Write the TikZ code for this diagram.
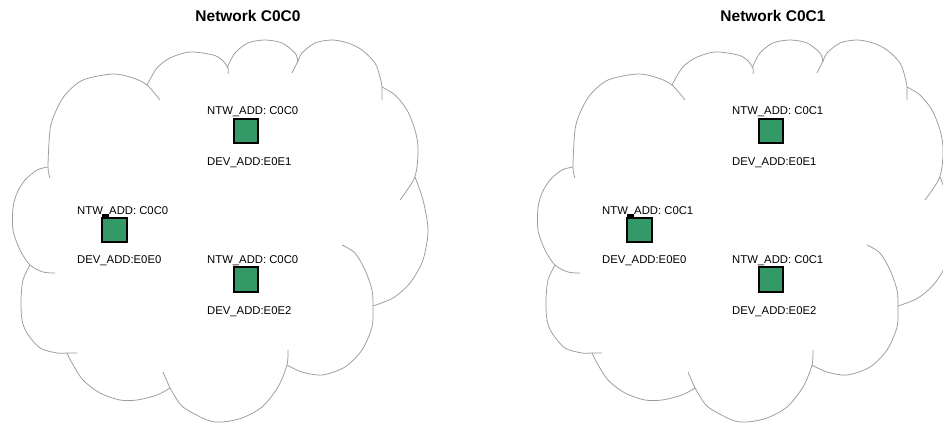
\documentclass[tikz,border=0pt]{standalone}
\usepackage{fontspec}
\setmainfont{Liberation Sans}
\definecolor{cloudgray}{RGB}{155,155,155}
\definecolor{devgreen}{RGB}{51,153,102}
\tikzset{
  cloudline/.style={draw=cloudgray, line width=0.75pt, line join=round},
  device/.style={draw=black, line width=1.8pt, fill=devgreen,
    minimum size=24.5pt, inner sep=0pt},
  addrlabel/.style={anchor=base west, inner sep=0pt,
    font=\fontsize{11.3}{12}\selectfont},
  nettitle/.style={anchor=base, inner sep=0pt,
    font=\bfseries\fontsize{15.5}{18}\selectfont},
}
% One network: cloud outline, three devices and their addresses.
% #1 = suffix for node names, #2 = network address
\newcommand\networkpanel[2]{%
  % cloud lobes, each arc running a little past its neighbour
  \draw[cloudline] plot[smooth] coordinates {(50,178) (48,167) (50,130) (55,113) (65,95) (83,80) (113,74) (133,78) (147,85) (160,100)};
  \draw[cloudline] plot[smooth] coordinates {(147,85) (157,68) (170,58) (190,52) (213,55) (222,60) (228,68) (228,74)};
  \draw[cloudline] plot[smooth] coordinates {(227,68) (235,53) (248,43) (265,40) (282,43) (295,53) (298,62)};
  \draw[cloudline] plot[smooth] coordinates {(292,73) (298,61) (302,53) (315,43) (332,40) (348,43) (362,50) (375,63) (380,77) (382,87) (382,100)};
  \draw[cloudline] plot[smooth] coordinates {(382,87) (395,95) (407,110) (415,130) (418,147) (417,167) (413,181) (400,200)};
  \draw[cloudline] plot[smooth] coordinates {(415,177) (423,200) (428,230) (423,260) (410,283) (393,298) (373,306)};
  \draw[cloudline] plot[smooth] coordinates {(342,245) (355,253) (365,270) (372,290) (373,307) (372,327) (362,350) (345,367) (322,375) (302,372) (287,365)};
  \draw[cloudline] plot[smooth] coordinates {(288,350) (287,365) (278,387) (262,407) (242,418) (222,422) (207,420) (183,407) (173,393) (170,388) (163,372)};
  \draw[cloudline] plot[smooth] coordinates {(67,353) (72,363) (83,380) (100,393) (120,400) (137,400) (157,395) (170,388)};
  \draw[cloudline] plot[smooth] coordinates {(30,265) (23,280) (21,300) (22,320) (27,333) (40,348) (57,353) (67,353) (77,353)};
  \draw[cloudline] plot[smooth] coordinates {(48,167) (37,170) (25,180) (17,193) (13,208) (13,230) (20,250) (30,265) (43,272) (55,273)};
  % title
  \node[nettitle] (title#1) at (248,21) {Network #2};
  % devices
  \node[device] (devA#1) at (114.5,230) {};
  \node[device] (devB#1) at (246,131) {};
  \node[device] (devC#1) at (246,279.5) {};
  \fill ([shift={(1,0)}]devA#1.north west) rectangle ++(6.5,-2.6);
  % addresses
  \node[addrlabel] (ntwA#1) at (77,214) {NTW\_ADD: #2};
  \node[addrlabel] (macA#1) at (77,263) {DEV\_ADD:E0E0};
  \node[addrlabel] (ntwB#1) at (207,114) {NTW\_ADD: #2};
  \node[addrlabel] (macB#1) at (207,165) {DEV\_ADD:E0E1};
  \node[addrlabel] (ntwC#1) at (207,263) {NTW\_ADD: #2};
  \node[addrlabel] (macC#1) at (207,314) {DEV\_ADD:E0E2};
}
\begin{document}
\begin{tikzpicture}[x=1pt, y=-1pt]
  \clip (0,0) rectangle (943,423);
  \fill[white] (0,0) rectangle (943,423);
  \begin{scope}
    \networkpanel{L}{C0C0}
  \end{scope}
  \begin{scope}[shift={(525,0)}]
    \networkpanel{R}{C0C1}
  \end{scope}
\end{tikzpicture}
\end{document}
